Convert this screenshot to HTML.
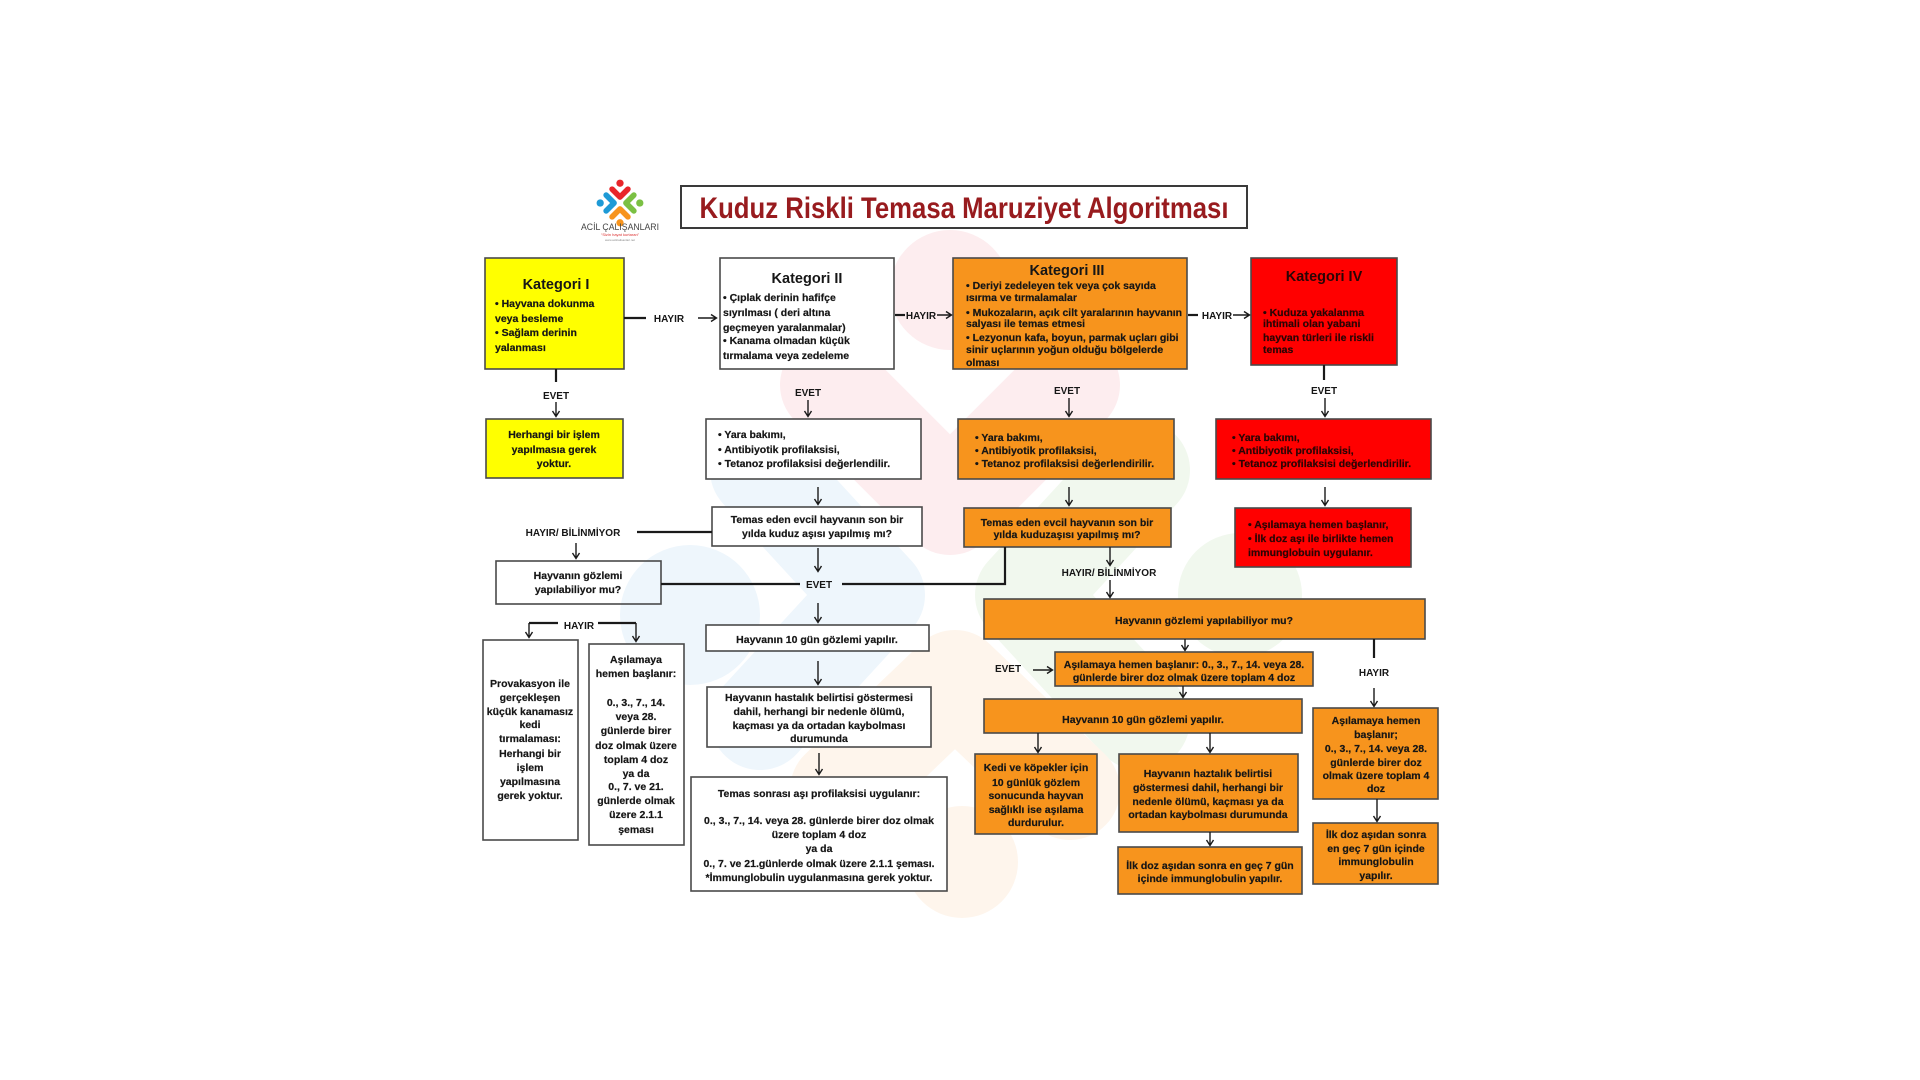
<!DOCTYPE html>
<html><head><meta charset="utf-8"><style>
html,body{margin:0;padding:0;background:#fff;width:1920px;height:1080px;overflow:hidden}
svg{display:block}
text{font-family:"Liberation Sans",Arial,sans-serif;font-weight:bold;fill:#161616}
.b{font-size:10.5px;stroke:#161616;stroke-width:0.2}
.c{text-anchor:middle}
.t{font-size:14.5px;text-anchor:middle}
.l{font-size:10px}
.r text,.r{fill:#2a0505}
.r .b{stroke:#2a0505}
</style></head><body>
<svg width="1920" height="1080" viewBox="0 0 1920 1080" xmlns="http://www.w3.org/2000/svg">
<!-- watermark -->
<g fill="none" stroke-linecap="round" stroke-linejoin="round" stroke-width="100">
<polyline points="830,385 950,505 1070,385" stroke="#fdedef"/>
<polyline points="760,470 875,595 760,720" stroke="#eef6fc"/>
<polyline points="1140,470 1025,595 1140,720" stroke="#f1f8ee"/>
<polyline points="840,790 955,680 1070,790" stroke="#fef5ec"/>
</g>
<circle cx="950" cy="290" r="60" fill="#fdedef"/>
<circle cx="690" cy="615" r="70" fill="#eef6fc"/>
<circle cx="1240" cy="595" r="62" fill="#f1f8ee"/>
<circle cx="962" cy="862" r="56" fill="#fef5ec"/>

<!-- logo -->
<g transform="translate(620,203) scale(0.066)">
<g fill="none" stroke-linecap="round" stroke-linejoin="round" stroke-width="85">
<polyline points="-120,-210 0,-90 120,-210" stroke="#e8262a"/>
<polyline points="-210,-120 -90,0 -210,120" stroke="#1e9ad6"/>
<polyline points="210,-120 90,0 210,120" stroke="#7bc043"/>
<polyline points="-120,210 0,90 120,210" stroke="#f7941d"/>
</g>
<circle cx="0" cy="-300" r="55" fill="#e8262a"/>
<circle cx="-300" cy="0" r="55" fill="#1e9ad6"/>
<circle cx="300" cy="0" r="55" fill="#7bc043"/>
<circle cx="0" cy="300" r="55" fill="#f7941d"/>
</g>
<text x="620" y="230" style="font-size:9px;font-weight:normal;fill:#444;text-anchor:middle" textLength="78" lengthAdjust="spacingAndGlyphs">ACİL ÇALIŞANLARI</text>
<text x="620" y="236" style="font-size:4px;font-weight:normal;fill:#d33;text-anchor:middle">“Sizin hayat kurtaran”</text>
<text x="620" y="241" style="font-size:3px;font-weight:normal;fill:#888;text-anchor:middle">www.acilcalisanlari.net</text>

<!-- title -->
<rect x="681" y="186" width="566" height="42" fill="#fff" stroke="#3a3a3a" stroke-width="2"/>
<text x="964" y="218" style="font-size:30px;fill:#981b1e;text-anchor:middle" textLength="529" lengthAdjust="spacingAndGlyphs">Kuduz Riskli Temasa Maruziyet Algoritması</text>

<g stroke="#4a4a4a" stroke-width="1.6">
<rect x="485" y="258" width="139" height="111" fill="#ffff00"/>
<rect x="486" y="419" width="137" height="59" fill="#ffff00"/>
<rect x="720" y="258" width="174" height="111" fill="#fff"/>
<rect x="706" y="419" width="215" height="60" fill="#fff"/>
<rect x="953" y="258" width="234" height="111" fill="#f7941d"/>
<rect x="958" y="419" width="216" height="60" fill="#f7941d"/>
<rect x="1251" y="258" width="146" height="107" fill="#ff0000"/>
<rect x="1216" y="419" width="215" height="60" fill="#ff0000"/>
<rect x="712" y="507" width="210" height="39" fill="#fff"/>
<rect x="964" y="508" width="207" height="39" fill="#f7941d"/>
<rect x="1235" y="508" width="176" height="59" fill="#ff0000"/>
<rect x="496" y="561" width="165" height="43" fill="none"/>
<rect x="706" y="625" width="223" height="26" fill="#fff"/>
<rect x="707" y="687" width="224" height="60" fill="#fff"/>
<rect x="483" y="640" width="95" height="200" fill="#fff"/>
<rect x="589" y="644" width="95" height="201" fill="#fff"/>
<rect x="691" y="777" width="256" height="114" fill="#fff"/>
<rect x="984" y="599" width="441" height="40" fill="#f7941d"/>
<rect x="1055" y="652" width="258" height="34" fill="#f7941d"/>
<rect x="984" y="699" width="318" height="34" fill="#f7941d"/>
<rect x="1313" y="708" width="125" height="91" fill="#f7941d"/>
<rect x="975" y="754" width="122" height="80" fill="#f7941d"/>
<rect x="1119" y="754" width="179" height="78" fill="#f7941d"/>
<rect x="1118" y="847" width="184" height="47" fill="#f7941d"/>
<rect x="1313" y="823" width="125" height="61" fill="#f7941d"/>
</g>

<!-- connectors -->
<g stroke="#1a1a1a" fill="none" stroke-width="2.2">
<line x1="624" y1="318" x2="646" y2="318"/>
<line x1="895" y1="315" x2="905" y2="315"/>
<line x1="1188" y1="315" x2="1198" y2="315"/>
<line x1="556" y1="369" x2="556" y2="382"/>
<line x1="1324" y1="365" x2="1324" y2="380"/>
<line x1="637" y1="532" x2="712" y2="532"/>
<line x1="661" y1="584" x2="800" y2="584"/>
<polyline points="842,584 1005,584 1005,547"/>
<line x1="529" y1="623" x2="558" y2="623"/>
<line x1="598" y1="623" x2="636" y2="623"/>
<line x1="1374" y1="639" x2="1374" y2="658"/>
</g>
<!-- arrows -->
<g stroke="#1a1a1a" fill="none" stroke-width="1.4">
<path d="M698 318 H716 M711 314.5 L716.5 318 L711 321.5"/>
<path d="M937 315 H951 M946 311.5 L951.5 315 L946 318.5"/>
<path d="M1233 315 H1249 M1244 311.5 L1249.5 315 L1244 318.5"/>
<path d="M1033 670 H1052 M1047 666.5 L1052.5 670 L1047 673.5"/>
<path d="M556 402 V416 M552.5 411 L556 416.5 L559.5 411"/>
<path d="M808 400 V416 M804.5 411 L808 416.5 L811.5 411"/>
<path d="M1069 398 V416 M1065.5 411 L1069 416.5 L1072.5 411"/>
<path d="M1325 398 V416 M1321.5 411 L1325 416.5 L1328.5 411"/>
<path d="M818 487 V504 M814.5 499 L818 504.5 L821.5 499"/>
<path d="M1069 487 V505 M1065.5 500 L1069 505.5 L1072.5 500"/>
<path d="M1325 487 V505 M1321.5 500 L1325 505.5 L1328.5 500"/>
<path d="M576 543 V558 M572.5 553 L576 558.5 L579.5 553"/>
<path d="M818 548 V571 M814.5 566 L818 571.5 L821.5 566"/>
<path d="M818 603 V622 M814.5 617 L818 622.5 L821.5 617"/>
<path d="M818 661 V684 M814.5 679 L818 684.5 L821.5 679"/>
<path d="M819 753 V774 M815.5 769 L819 774.5 L822.5 769"/>
<path d="M529 623 V637 M525.5 632 L529 637.5 L532.5 632"/>
<path d="M636 623 V641 M632.5 636 L636 641.5 L639.5 636"/>
<path d="M1110 547 V565 M1106.5 560 L1110 565.5 L1113.5 560"/>
<path d="M1110 580 V597 M1106.5 592 L1110 597.5 L1113.5 592"/>
<path d="M1185 639 V650 M1181.5 645 L1185 650.5 L1188.5 645"/>
<path d="M1374 688 V706 M1370.5 701 L1374 706.5 L1377.5 701"/>
<path d="M1183 686 V697 M1179.5 692 L1183 697.5 L1186.5 692"/>
<path d="M1038 733 V752 M1034.5 747 L1038 752.5 L1041.5 747"/>
<path d="M1210 733 V752 M1206.5 747 L1210 752.5 L1213.5 747"/>
<path d="M1210 832 V845 M1206.5 840 L1210 845.5 L1213.5 840"/>
<path d="M1377 799 V821 M1373.5 816 L1377 821.5 L1380.5 816"/>
</g>

<!-- labels -->
<g class="l">
<text x="669" y="322" class="c">HAYIR</text>
<text x="921" y="319" class="c">HAYIR</text>
<text x="1217" y="319" class="c">HAYIR</text>
<text x="556" y="399" class="c">EVET</text>
<text x="808" y="396" class="c">EVET</text>
<text x="1067" y="394" class="c">EVET</text>
<text x="1324" y="394" class="c">EVET</text>
<text x="573" y="536" class="c">HAYIR/ BİLİNMİYOR</text>
<text x="819" y="588" class="c">EVET</text>
<text x="579" y="629" class="c">HAYIR</text>
<text x="1109" y="576" class="c">HAYIR/ BİLİNMİYOR</text>
<text x="1374" y="676" class="c">HAYIR</text>
<text x="1008" y="672" class="c">EVET</text>
</g>

<!-- Kat I -->
<text x="556" y="289" class="t">Kategori I</text>
<g class="b">
<text x="495" y="307">•  Hayvana dokunma</text>
<text x="495" y="322">veya besleme</text>
<text x="495" y="336">•  Sağlam derinin</text>
<text x="495" y="351">yalanması</text>
</g>
<g class="b c">
<text x="554" y="438">Herhangi bir işlem</text>
<text x="554" y="453">yapılmasıa gerek</text>
<text x="554" y="467">yoktur.</text>
</g>

<!-- Kat II -->
<text x="807" y="283" class="t">Kategori II</text>
<g class="b">
<text x="723" y="301">• Çıplak derinin hafifçe</text>
<text x="723" y="316">sıyrılması ( deri altına</text>
<text x="723" y="331">geçmeyen yaralanmalar)</text>
<text x="723" y="344">• Kanama olmadan küçük</text>
<text x="723" y="359">tırmalama veya zedeleme</text>
<text x="718" y="438">• Yara bakımı,</text>
<text x="718" y="453">• Antibiyotik profilaksisi,</text>
<text x="718" y="467">• Tetanoz profilaksisi değerlendilir.</text>
</g>

<!-- Kat III -->
<text x="1067" y="275" class="t">Kategori III</text>
<g class="b">
<text x="966" y="289">• Deriyi zedeleyen tek veya çok sayıda</text>
<text x="966" y="301">ısırma ve tırmalamalar</text>
<text x="966" y="316">• Mukozaların, açık cilt yaralarının hayvanın</text>
<text x="966" y="327">salyası ile temas etmesi</text>
<text x="966" y="341">• Lezyonun kafa, boyun, parmak uçları gibi</text>
<text x="966" y="353">sinir uçlarının yoğun olduğu bölgelerde</text>
<text x="966" y="366">olması</text>
<text x="975" y="441">• Yara bakımı,</text>
<text x="975" y="454">• Antibiyotik profilaksisi,</text>
<text x="975" y="467">• Tetanoz profilaksisi değerlendirilir.</text>
</g>

<!-- Kat IV -->
<g class="r">
<text x="1324" y="281" class="t">Kategori IV</text>
<g class="b">
<text x="1263" y="316">• Kuduza yakalanma</text>
<text x="1263" y="327">ihtimali olan yabani</text>
<text x="1263" y="341">hayvan türleri ile riskli</text>
<text x="1263" y="353">temas</text>
<text x="1232" y="441">• Yara bakımı,</text>
<text x="1232" y="454">• Antibiyotik profilaksisi,</text>
<text x="1232" y="467">• Tetanoz profilaksisi değerlendirilir.</text>
<text x="1248" y="528">• Aşılamaya hemen başlanır,</text>
<text x="1248" y="542">• İlk doz aşı ile birlikte hemen</text>
<text x="1248" y="556">immunglobuin uygulanır.</text>
</g>
</g>

<g class="b c">
<text x="817" y="523">Temas eden evcil hayvanın son bir</text>
<text x="817" y="537">yılda kuduz aşısı yapılmış mı?</text>
<text x="1067" y="526">Temas eden evcil hayvanın son bir</text>
<text x="1067" y="538">yılda kuduzaşısı yapılmış mı?</text>
<text x="578" y="579">Hayvanın gözlemi</text>
<text x="578" y="593">yapılabiliyor mu?</text>
<text x="817" y="643">Hayvanın 10 gün gözlemi yapılır.</text>
<text x="819" y="701">Hayvanın hastalık belirtisi göstermesi</text>
<text x="819" y="715">dahil, herhangi bir nedenle ölümü,</text>
<text x="819" y="729">kaçması ya da ortadan kaybolması</text>
<text x="819" y="742">durumunda</text>

<text x="530" y="687">Provakasyon ile</text>
<text x="530" y="701">gerçekleşen</text>
<text x="530" y="715">küçük kanamasız</text>
<text x="530" y="728">kedi</text>
<text x="530" y="742">tırmalaması:</text>
<text x="530" y="757">Herhangi bir</text>
<text x="530" y="771">işlem</text>
<text x="530" y="785">yapılmasına</text>
<text x="530" y="799">gerek yoktur.</text>

<text x="636" y="663">Aşılamaya</text>
<text x="636" y="677">hemen başlanır:</text>
<text x="636" y="706">0., 3., 7., 14.</text>
<text x="636" y="720">veya 28.</text>
<text x="636" y="734">günlerde birer</text>
<text x="636" y="749">doz olmak üzere</text>
<text x="636" y="763">toplam 4 doz</text>
<text x="636" y="777">ya da</text>
<text x="636" y="790">0., 7. ve 21.</text>
<text x="636" y="804">günlerde olmak</text>
<text x="636" y="818">üzere 2.1.1</text>
<text x="636" y="833">şeması</text>

<text x="819" y="797">Temas sonrası aşı profilaksisi uygulanır:</text>
<text x="819" y="824">0., 3., 7., 14. veya 28. günlerde birer doz olmak</text>
<text x="819" y="838">üzere toplam 4 doz</text>
<text x="819" y="852">ya da</text>
<text x="819" y="867">0., 7. ve 21.günlerde olmak üzere 2.1.1 şeması.</text>
<text x="819" y="881">*İmmunglobulin uygulanmasına gerek yoktur.</text>

<text x="1204" y="624">Hayvanın gözlemi yapılabiliyor mu?</text>
<text x="1184" y="668">Aşılamaya hemen başlanır: 0., 3., 7., 14. veya 28.</text>
<text x="1184" y="681">günlerde birer doz olmak üzere toplam 4 doz</text>
<text x="1143" y="723">Hayvanın 10 gün gözlemi yapılır.</text>

<text x="1376" y="724">Aşılamaya hemen</text>
<text x="1376" y="738">başlanır;</text>
<text x="1376" y="752">0., 3., 7., 14. veya 28.</text>
<text x="1376" y="766">günlerde birer doz</text>
<text x="1376" y="779">olmak üzere toplam 4</text>
<text x="1376" y="792">doz</text>

<text x="1036" y="771">Kedi ve köpekler için</text>
<text x="1036" y="786">10 günlük gözlem</text>
<text x="1036" y="799">sonucunda hayvan</text>
<text x="1036" y="813">sağlıklı ise aşılama</text>
<text x="1036" y="826">durdurulur.</text>

<text x="1208" y="777">Hayvanın haztalık belirtisi</text>
<text x="1208" y="791">göstermesi dahil, herhangi bir</text>
<text x="1208" y="805">nedenle ölümü, kaçması ya da</text>
<text x="1208" y="818">ortadan kaybolması durumunda</text>

<text x="1210" y="869">İlk doz aşıdan sonra en geç 7 gün</text>
<text x="1210" y="882">içinde immunglobulin yapılır.</text>

<text x="1376" y="838">İlk doz aşıdan sonra</text>
<text x="1376" y="852">en geç 7 gün içinde</text>
<text x="1376" y="865">immunglobulin</text>
<text x="1376" y="879">yapılır.</text>
</g>
</svg>
</body></html>
